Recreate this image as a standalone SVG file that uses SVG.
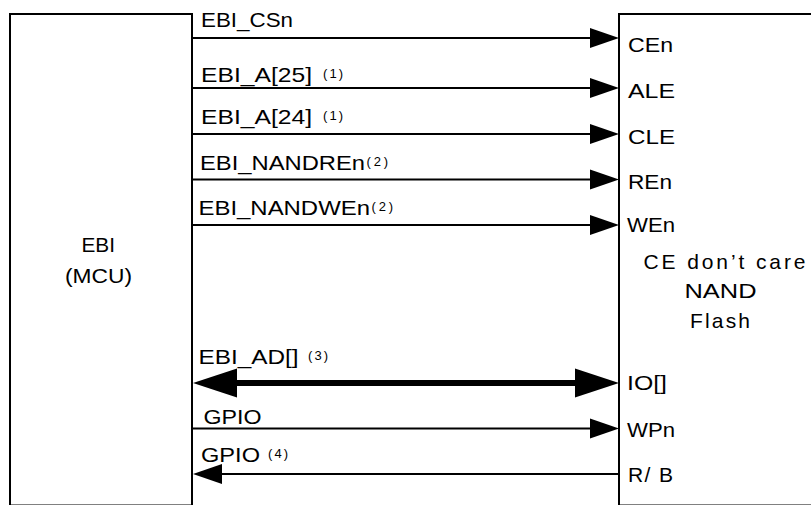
<svg xmlns="http://www.w3.org/2000/svg" width="811" height="505" viewBox="0 0 811 505">
<style>
  .box { fill: #ffffff; stroke: #000000; stroke-width: 2; }
  .t { font-family: "Liberation Sans", Arial, sans-serif; font-size: 21px; fill: #000000; }
  .s { font-family: "Liberation Sans", Arial, sans-serif; font-size: 13px; fill: #000000; }
  .w { stroke: #000000; stroke-width: 2; fill: none; }
  .thick { stroke: #000000; stroke-width: 6; fill: none; }
</style>
<defs>
  <marker id="ah" markerUnits="userSpaceOnUse" markerWidth="30" markerHeight="22" refX="0" refY="10" orient="auto" overflow="visible">
    <path d="M0,0 L29,10 L0,20 Z" fill="#000000"/>
  </marker>
  <marker id="ahBig" markerUnits="userSpaceOnUse" markerWidth="46" markerHeight="30" refX="0" refY="14.5" orient="auto-start-reverse" overflow="visible">
    <path d="M0,0 L44,14.5 L0,29 Z" fill="#000000"/>
  </marker>
</defs>

<g id="ebi-mcu">
  <rect class="box" x="10" y="14" width="182" height="491.5"/>
  <text class="t" x="81.5" y="251.5" textLength="33.5" lengthAdjust="spacingAndGlyphs">EBI</text>
  <text class="t" x="65" y="282.5" textLength="67" lengthAdjust="spacingAndGlyphs">(MCU)</text>
</g>

<g id="nand-flash">
  <rect class="box" x="619" y="14" width="220" height="491.5"/>
  <text class="t" x="628" y="51.5" textLength="45" lengthAdjust="spacingAndGlyphs">CEn</text>
  <text class="t" x="628" y="97.5" textLength="47" lengthAdjust="spacingAndGlyphs">ALE</text>
  <text class="t" x="628" y="144" textLength="47" lengthAdjust="spacingAndGlyphs">CLE</text>
  <text class="t" x="628" y="188.5" textLength="44" lengthAdjust="spacingAndGlyphs">REn</text>
  <text class="t" x="627" y="231.5" textLength="48" lengthAdjust="spacingAndGlyphs">WEn</text>
  <text class="t" x="643.5" y="268.5" textLength="162" lengthAdjust="spacing">CE don’t care</text>
  <text class="t" x="684.5" y="297.5" textLength="72" lengthAdjust="spacingAndGlyphs">NAND</text>
  <text class="t" x="690" y="327.5" textLength="60" lengthAdjust="spacing">Flash</text>
  <text class="t" x="627" y="390" textLength="40" lengthAdjust="spacingAndGlyphs">IO[]</text>
  <text class="t" x="627" y="436.5" textLength="48" lengthAdjust="spacingAndGlyphs">WPn</text>
  <text class="t" x="628" y="481.5" textLength="45" lengthAdjust="spacing">R/ B</text>
</g>

<g id="connectors">
  <line class="w" x1="192" y1="38" x2="590" y2="38" marker-end="url(#ah)"/>
  <line class="w" x1="192" y1="88" x2="590" y2="88" marker-end="url(#ah)"/>
  <line class="w" x1="192" y1="134" x2="590" y2="134" marker-end="url(#ah)"/>
  <line class="w" x1="192" y1="179.5" x2="590" y2="179.5" marker-end="url(#ah)"/>
  <line class="w" x1="192" y1="225" x2="590" y2="225" marker-end="url(#ah)"/>
  <line class="thick" x1="237" y1="383" x2="575" y2="383" marker-start="url(#ahBig)" marker-end="url(#ahBig)"/>
  <line class="w" x1="192" y1="428.5" x2="590" y2="428.5" marker-end="url(#ah)"/>
  <line class="w" x1="619" y1="474" x2="222" y2="474" marker-end="url(#ah)"/>
</g>

<g id="labels">
  <text class="t" x="201" y="26.5" textLength="92" lengthAdjust="spacingAndGlyphs">EBI_CSn</text>
  <text class="t" x="201" y="81.5" textLength="111" lengthAdjust="spacingAndGlyphs">EBI_A[25]</text>
  <text class="s" x="323" y="77.5" textLength="20" lengthAdjust="spacing">(1)</text>
  <text class="t" x="201" y="123.5" textLength="111" lengthAdjust="spacingAndGlyphs">EBI_A[24]</text>
  <text class="s" x="323" y="119.5" textLength="20" lengthAdjust="spacing">(1)</text>
  <text class="t" x="200" y="170" textLength="165" lengthAdjust="spacingAndGlyphs">EBI_NANDREn</text>
  <text class="s" x="366.5" y="166" textLength="21.5" lengthAdjust="spacing">(2)</text>
  <text class="t" x="198.5" y="214.5" textLength="171.5" lengthAdjust="spacingAndGlyphs">EBI_NANDWEn</text>
  <text class="s" x="371.5" y="210.5" textLength="21.5" lengthAdjust="spacing">(2)</text>
  <text class="t" x="198.5" y="363.5" textLength="100" lengthAdjust="spacingAndGlyphs">EBI_AD[]</text>
  <text class="s" x="308" y="359.5" textLength="20" lengthAdjust="spacing">(3)</text>
  <text class="t" x="203.5" y="423.5" textLength="58" lengthAdjust="spacingAndGlyphs">GPIO</text>
  <text class="t" x="201" y="461.5" textLength="59" lengthAdjust="spacingAndGlyphs">GPIO</text>
  <text class="s" x="268" y="457.5" textLength="20" lengthAdjust="spacing">(4)</text>
</g>
</svg>
